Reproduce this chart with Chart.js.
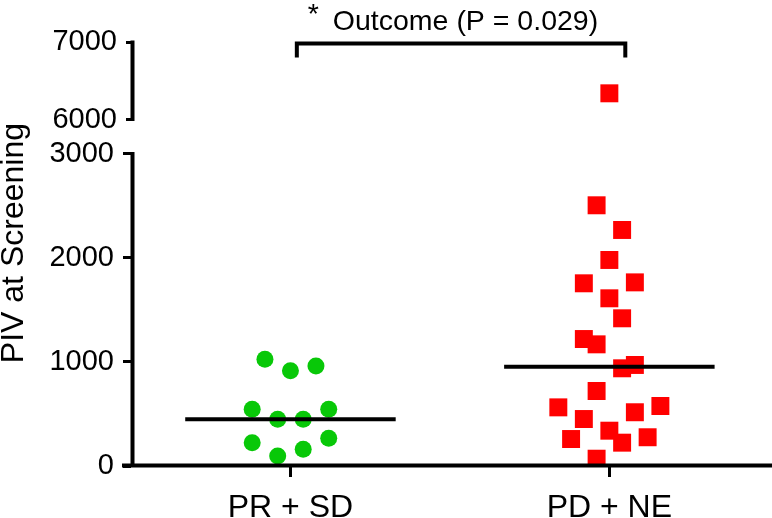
<!DOCTYPE html>
<html>
<head>
<meta charset="utf-8">
<title>PIV at Screening</title>
<script src="https://cdn.jsdelivr.net/npm/chart.js@4.4.1/dist/chart.umd.min.js"></script>
<style>
  html, body { margin: 0; padding: 0; background: #fff; }
  canvas { display: block; }
</style>
</head>
<body>
<canvas id="chart" width="772" height="518"></canvas>
<script>
const categories = ["PR + SD", "PD + NE"];

// PIV values, plus the sideways scatter of each dot (in category units)
const prSdValues = [1024, 915, 960, 544, 448, 448, 544, 224, 96, 160, 266];
const prSdJitter = [-0.08, 0, 0.08, -0.12, -0.04, 0.04, 0.12, -0.12, -0.04, 0.04, 0.12];
const pdNeValues = [6338, 2503, 2266, 1978, 1754, 1763, 1610, 1418, 1219, 1168, 938, 970,
  720, 563, 576, 451, 516, 339, 259, 276, 224, 70];
const pdNeJitter = [0, -0.04, 0.04, 0, -0.08, 0.08, 0, 0.04, -0.08, -0.04, 0.04, 0.08,
  -0.04, -0.16, 0.16, -0.08, 0.08, 0, -0.12, 0.12, 0.04, -0.04];

// broken y axis: 0-3000 below, 6000-7000 above
const lowerTicks = [0, 1000, 2000, 3000];
const upperTicks = [6000, 7000];

// significance bracket between the groups
const bracketX = [1.02, 2.05];
const bracketY = [6800, 6980];
const significance = { mark: "*", label: "Outcome (P = 0.029)" };

const FONT = "'Liberation Sans', Arial, Helvetica, sans-serif";
Chart.defaults.font.family = FONT;
Chart.defaults.color = "#000";

function median(values) {
  const s = [...values].sort((a, b) => a - b);
  const m = Math.floor(s.length / 2);
  return s.length % 2 ? s[m] : (s[m - 1] + s[m]) / 2;
}

const lowerMax = lowerTicks[lowerTicks.length - 1];

function points(values, jitter, group, upper) {
  return values
    .map((v, i) => ({ x: group + jitter[i], y: v }))
    .filter((p) => (upper ? p.y > lowerMax : p.y <= lowerMax));
}

function medianLine(values, group) {
  const m = median(values);
  return {
    data: [{ x: group - 0.33, y: m }, { x: group + 0.33, y: m }],
    showLine: true,
    borderColor: "#000",
    borderWidth: 4,
    pointRadius: 0,
    order: 0,
    yAxisID: "y",
  };
}

const green = {
  pointStyle: "circle",
  pointRadius: 8.5,
  backgroundColor: "#08c808",
  borderWidth: 0,
  order: 1,
};
const red = {
  pointStyle: "rect",
  pointRadius: 12.7,
  backgroundColor: "#ff0000",
  borderWidth: 0,
  order: 1,
};

const datasets = [
  { ...green, data: points(prSdValues, prSdJitter, 1, false), yAxisID: "y" },
  { ...red, data: points(pdNeValues, pdNeJitter, 2, false), yAxisID: "y" },
  { ...red, data: points(pdNeValues, pdNeJitter, 2, true), yAxisID: "y2" },
  medianLine(prSdValues, 1),
  medianLine(pdNeValues, 2),
  {
    data: [
      { x: bracketX[0], y: bracketY[0] },
      { x: bracketX[0], y: bracketY[1] },
      { x: bracketX[1], y: bracketY[1] },
      { x: bracketX[1], y: bracketY[0] },
    ],
    showLine: true,
    borderColor: "#000",
    borderWidth: 4,
    pointRadius: 0,
    clip: false,
    order: 0,
    yAxisID: "y2",
  },
];

// axis lines (with the break) and the significance text
const brokenAxis = {
  id: "brokenAxis",
  afterDatasetsDraw(chart) {
    const { ctx, chartArea, scales } = chart;
    const { x, y, y2 } = scales;
    const axisX = chartArea.left + 1.5;
    const axisY = y.getPixelForValue(0) - 0.5;
    ctx.save();
    ctx.strokeStyle = "#000";
    ctx.lineWidth = 4;
    ctx.beginPath();
    ctx.moveTo(axisX, axisY + 2);
    ctx.lineTo(axisX, y.getPixelForValue(lowerMax) - 1.5);
    ctx.moveTo(axisX, y2.getPixelForValue(upperTicks[0]) + 1.5);
    ctx.lineTo(axisX, y2.getPixelForValue(upperTicks[upperTicks.length - 1]) - 1.5);
    ctx.moveTo(chartArea.left - 9, axisY);
    ctx.lineTo(chartArea.right, axisY);
    ctx.stroke();

    const left = x.getPixelForValue(bracketX[0]);
    const top = y2.getPixelForValue(upperTicks[upperTicks.length - 1]);
    ctx.fillStyle = "#000";
    ctx.textBaseline = "alphabetic";
    ctx.textAlign = "left";
    ctx.font = `28.5px ${FONT}`;
    ctx.fillText(significance.mark, left + 11, top - 19);
    ctx.fillText(significance.label, left + 36, top - 12);
    ctx.restore();
  },
};

const plainTick = (v) => String(v);

new Chart(document.getElementById("chart"), {
  type: "scatter",
  data: { datasets },
  options: {
    responsive: false,
    animation: false,
    layout: { autoPadding: false, padding: { top: 42, left: 0, right: 0, bottom: 0 } },
    plugins: { legend: { display: false }, tooltip: { enabled: false } },
    scales: {
      x: {
        type: "linear",
        min: 0.5,
        max: 2.51,
        afterBuildTicks: (s) => {
          s.ticks = categories.map((c, i) => ({ value: i + 1 }));
        },
        afterFit: (s) => {
          s.height = 52;
          s.paddingLeft = 0;
          s.paddingRight = 0;
        },
        ticks: {
          autoSkip: false,
          maxRotation: 0,
          padding: 12,
          font: { size: 32 },
          callback: (v) => categories[v - 1],
        },
        grid: { drawOnChartArea: false, tickLength: 11, lineWidth: 3, color: "#000" },
        border: { display: false },
      },
      // upper piece of the broken axis, stacked on top of the lower one
      y2: {
        type: "linear",
        position: "left",
        stack: "piv",
        stackWeight: 81,
        weight: 2,
        min: 5955,
        max: 7000,
        afterBuildTicks: (s) => {
          s.ticks = upperTicks.map((v) => ({ value: v }));
        },
        afterFit: (s) => {
          s.width = 131;
        },
        ticks: { padding: 9, font: { size: 29 }, callback: plainTick },
        grid: { drawOnChartArea: false, tickLength: 5, lineWidth: 3, color: "#000" },
        border: { display: false },
      },
      y: {
        type: "linear",
        position: "left",
        stack: "piv",
        stackWeight: 343,
        weight: 1,
        min: 0,
        max: 3293,
        afterBuildTicks: (s) => {
          s.ticks = lowerTicks.map((v) => ({ value: v }));
        },
        afterFit: (s) => {
          s.width = 131;
        },
        ticks: { padding: 9, font: { size: 29 }, callback: plainTick },
        grid: { drawOnChartArea: false, tickLength: 8, lineWidth: 3, color: "#000" },
        border: { display: false },
        title: {
          display: true,
          text: "PIV at Screening",
          align: "end",
          padding: 0,
          font: { size: 32, lineHeight: 0.9 },
        },
      },
    },
  },
  plugins: [brokenAxis],
});
</script>
</body>
</html>
